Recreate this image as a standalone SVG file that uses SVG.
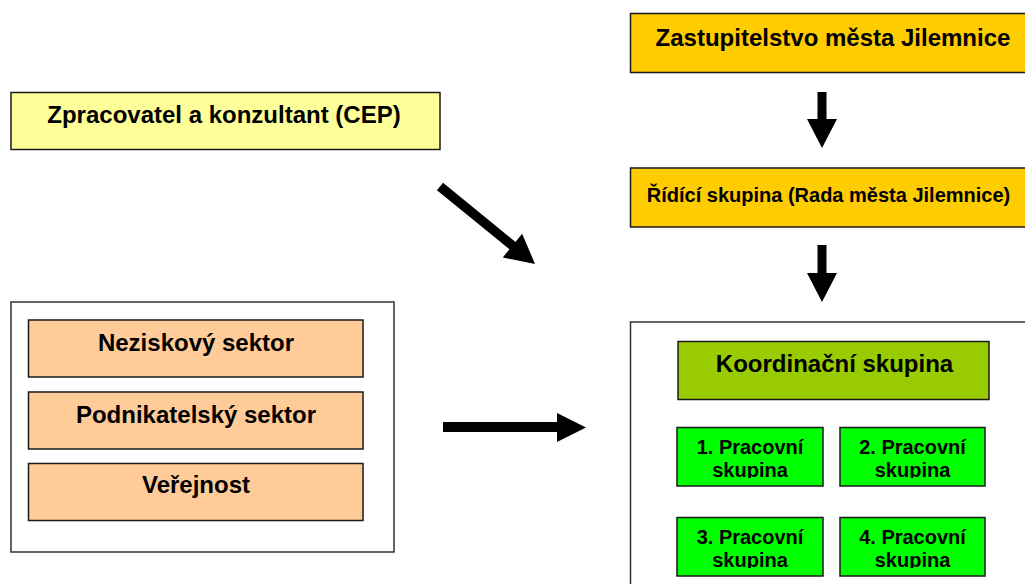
<svg xmlns="http://www.w3.org/2000/svg" width="1025" height="584" viewBox="0 0 1025 584">
<style>
  .box { stroke: #1a1a1a; stroke-width: 1.5; }
  .frame { fill: #ffffff; stroke: #333333; stroke-width: 1.5; }
  .t { font-family: "Liberation Sans", Arial, sans-serif; font-weight: bold; fill: #000000; text-anchor: middle; }
  .t24 { font-size: 24px; }
  .t20 { font-size: 20px; }
  .arrow { fill: #000000; }
</style>
<defs>
  <clipPath id="c1"><rect x="677" y="427" width="146" height="51"/></clipPath>
  <clipPath id="c2"><rect x="840" y="427" width="145" height="51"/></clipPath>
  <clipPath id="c3"><rect x="677" y="517" width="146" height="51"/></clipPath>
  <clipPath id="c4"><rect x="840" y="517" width="145" height="51"/></clipPath>
</defs>
<rect width="1025" height="584" fill="#ffffff"/>

<g id="zastupitelstvo">
  <rect class="box" x="630.5" y="13.5" width="405" height="59" fill="#FFCC00"/>
  <text class="t t24" x="833" y="46">Zastupitelstvo města Jilemnice</text>
</g>
<g id="ridici-skupina">
  <rect class="box" x="630.5" y="168" width="405" height="59" fill="#FFCC00"/>
  <text class="t t20" x="828.5" y="202">Řídící skupina (Rada města Jilemnice)</text>
</g>
<g id="zpracovatel">
  <rect class="box" x="11" y="92.5" width="429" height="57" fill="#FFFF99"/>
  <text class="t t24" x="224" y="123">Zpracovatel a konzultant (CEP)</text>
</g>

<g id="verejnost-skupina">
  <rect class="frame" x="11" y="302" width="383" height="250"/>
  <g id="neziskovy">
    <rect class="box" x="28.5" y="320" width="334.5" height="57" fill="#FFCC99"/>
    <text class="t t24" x="196" y="351">Neziskový sektor</text>
  </g>
  <g id="podnikatelsky">
    <rect class="box" x="28.5" y="392" width="334.5" height="57" fill="#FFCC99"/>
    <text class="t t24" x="196" y="423">Podnikatelský sektor</text>
  </g>
  <g id="verejnost">
    <rect class="box" x="28.5" y="463.5" width="334.5" height="57" fill="#FFCC99"/>
    <text class="t t24" x="196" y="493">Veřejnost</text>
  </g>
</g>

<g id="struktura">
  <rect class="frame" x="630.5" y="322" width="410" height="280"/>
  <g id="koordinacni">
    <rect class="box" x="678" y="341.5" width="311" height="58" fill="#99CC00"/>
    <text class="t t24" x="834.5" y="372">Koordinační skupina</text>
  </g>
  <g id="pracovni-1">
    <rect class="box" x="677" y="427.5" width="146" height="58.5" fill="#00FF00"/>
    <text class="t t20" x="750" y="454" clip-path="url(#c1)">1. Pracovní<tspan x="750" y="476.5">skupina</tspan></text>
  </g>
  <g id="pracovni-2">
    <rect class="box" x="840" y="427.5" width="145" height="58.5" fill="#00FF00"/>
    <text class="t t20" x="912.5" y="454" clip-path="url(#c2)">2. Pracovní<tspan x="912.5" y="476.5">skupina</tspan></text>
  </g>
  <g id="pracovni-3">
    <rect class="box" x="677" y="517.5" width="146" height="58.5" fill="#00FF00"/>
    <text class="t t20" x="750" y="544" clip-path="url(#c3)">3. Pracovní<tspan x="750" y="566.5">skupina</tspan></text>
  </g>
  <g id="pracovni-4">
    <rect class="box" x="840" y="517.5" width="145" height="58.5" fill="#00FF00"/>
    <text class="t t20" x="912.5" y="544" clip-path="url(#c4)">4. Pracovní<tspan x="912.5" y="566.5">skupina</tspan></text>
  </g>
</g>

<g id="connectors">
  <polygon class="arrow" points="817.5,92 826.5,92 826.5,119 837,119 822,148 807,119 817.5,119"/>
  <polygon class="arrow" points="817.5,245 826.5,245 826.5,273 837,273 822,302 807,273 817.5,273"/>
  <polygon class="arrow" points="443,422 557,422 557,413 586,427.5 557,442 557,432 443,432"/>
  <polygon class="arrow" transform="translate(440,186.5) rotate(39.2)" points="0,-4.8 93.5,-4.8 93.5,-15.3 122.6,0 93.5,15.3 93.5,4.8 0,4.8"/>
</g>
</svg>
